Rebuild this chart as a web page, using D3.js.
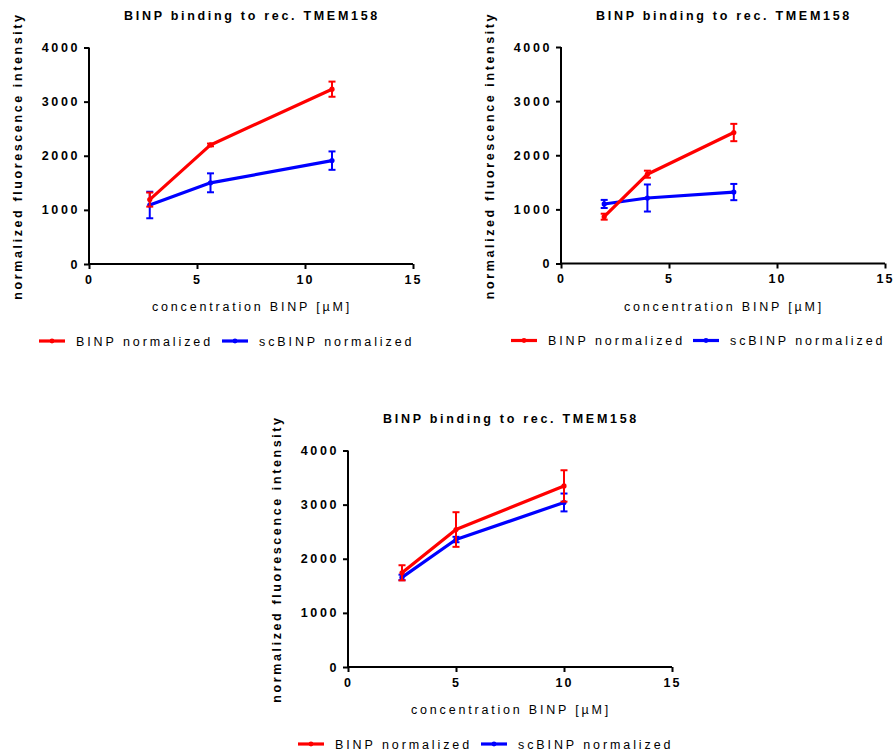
<!DOCTYPE html>
<html>
<head>
<meta charset="utf-8">
<script src="https://cdn.jsdelivr.net/npm/d3@7"></script>
<style>
  html, body { margin: 0; padding: 0; background: #fff; }
  svg { display: block; font-family: "Liberation Sans", Arial, sans-serif; }
</style>
</head>
<body>
<svg id="chart" width="893" height="753"></svg>
<script>
// Shared axes
const xTicks = [0, 5, 10, 15];
const yTicks = [0, 1000, 2000, 3000, 4000];
const seriesNames = ["BINP normalized", "scBINP normalized"];
const seriesColors = ["#ff0000", "#0000ff"];

// Experiment 1
const conc1 = [2.8125, 5.625, 11.25];
const binp1 = [1190, 2200, 3230];
const binp1Err = [130, 25, 140];
const sc1 = [1090, 1500, 1910];
const sc1Err = [245, 175, 170];

// Experiment 2
const conc2 = [2, 4, 8];
const binp2 = [865, 1650, 2420];
const binp2Err = [55, 65, 160];
const sc2 = [1100, 1210, 1320];
const sc2Err = [75, 250, 150];

// Experiment 3
const conc3 = [2.5, 5, 10];
const binp3 = [1740, 2540, 3345];
const binp3Err = [140, 320, 290];
const sc3 = [1655, 2355, 3040];
const sc3Err = [50, 50, 165];

const titleText = "BINP binding to rec. TMEM158";
const xLabel = "concentration BINP [µM]";
const yLabel = "normalized fluorescence intensity";

const svg = d3.select("#chart");

function drawPanel(p) {
  const g = svg.append("g");
  const x = d3.scaleLinear().domain([0, 15]).range([p.left, p.left + 324]);
  const y = d3.scaleLinear().domain([0, 4000]).range([p.bottom, p.bottom - 216.5]);

  // title
  g.append("text")
    .attr("x", p.left + 163).attr("y", p.bottom - 244)
    .attr("text-anchor", "middle")
    .attr("font-size", 12.5).attr("font-weight", "bold")
    .attr("letter-spacing", 2.7)
    .text(titleText);

  // axes
  const xAxis = d3.axisBottom(x).tickValues(xTicks).tickSize(5).tickPadding(6).tickFormat(d3.format("d"));
  const yAxis = d3.axisLeft(y).tickValues(yTicks).tickSize(5).tickPadding(4).tickFormat(d3.format("d"));

  const gx = g.append("g").attr("transform", `translate(0,${p.bottom})`).call(xAxis);
  const gy = g.append("g").attr("transform", `translate(${p.left},0)`).call(yAxis);
  [gx, gy].forEach(a => {
    a.select(".domain").attr("stroke", "#000").attr("stroke-width", 2);
    a.selectAll(".tick line").attr("stroke", "#000").attr("stroke-width", 2);
    a.selectAll(".tick text")
      .attr("fill", "#000").attr("font-size", 12.5).attr("font-weight", "bold")
      .attr("font-family", "'Liberation Sans', Arial, sans-serif");
  });
  gy.selectAll(".tick text").attr("letter-spacing", 2.6);
  gx.selectAll(".tick text").attr("letter-spacing", 2);
  gy.select(".domain").attr("d", `M-0,${y(4000)}V${p.bottom}`);
  gx.select(".domain").attr("d", `M${p.left},0H${x(15)}`);

  // axis labels
  g.append("text")
    .attr("x", p.left + 163).attr("y", p.bottom + 47)
    .attr("text-anchor", "middle")
    .attr("font-size", 12.5).attr("letter-spacing", 2.8)
    .text(xLabel);
  g.append("text")
    .attr("transform", `translate(${p.left - 67},${p.bottom - 108}) rotate(-90)`)
    .attr("text-anchor", "middle")
    .attr("font-size", 12.5).attr("font-weight", "bold").attr("letter-spacing", 2.6)
    .text(yLabel);

  // series: blue first, red on top
  const order = [1, 0];
  order.forEach(i => {
    const vals = p.series[i].vals, errs = p.series[i].errs, col = seriesColors[i];
    const pts = p.conc.map((c, k) => ({ c, v: vals[k], e: errs[k] }));
    const line = d3.line().x(d => x(d.c)).y(d => y(d.v));
    g.append("path").datum(pts)
      .attr("d", line).attr("fill", "none")
      .attr("stroke", col).attr("stroke-width", 3.2).attr("stroke-linejoin", "round");
    const eb = g.append("g").attr("stroke", col).attr("stroke-width", 2);
    pts.forEach(d => {
      const cx = x(d.c);
      eb.append("line").attr("x1", cx).attr("x2", cx).attr("y1", y(d.v + d.e)).attr("y2", y(d.v - d.e));
      eb.append("line").attr("x1", cx - 3.5).attr("x2", cx + 3.5).attr("y1", y(d.v + d.e)).attr("y2", y(d.v + d.e));
      eb.append("line").attr("x1", cx - 3.5).attr("x2", cx + 3.5).attr("y1", y(d.v - d.e)).attr("y2", y(d.v - d.e));
    });
    g.selectAll(null).data(pts).enter().append("circle")
      .attr("cx", d => x(d.c)).attr("cy", d => y(d.v)).attr("r", 2.6).attr("fill", col);
  });

  // legend
  const ly = p.bottom + 77;
  p.legend.forEach((lx, i) => {
    g.append("line").attr("x1", lx).attr("x2", lx + 26).attr("y1", ly).attr("y2", ly)
      .attr("stroke", seriesColors[i]).attr("stroke-width", 3.2);
    g.append("circle").attr("cx", lx + 13).attr("cy", ly).attr("r", 2.4).attr("fill", seriesColors[i]);
    g.append("text").attr("x", lx + 37).attr("y", ly + 4.5)
      .attr("font-size", 12.5).attr("letter-spacing", 2.9)
      .text(seriesNames[i]);
  });
}

drawPanel({ left: 89, bottom: 264, conc: conc1,
  series: [{ vals: binp1, errs: binp1Err }, { vals: sc1, errs: sc1Err }],
  legend: [39, 222] });
drawPanel({ left: 561, bottom: 263.5, conc: conc2,
  series: [{ vals: binp2, errs: binp2Err }, { vals: sc2, errs: sc2Err }],
  legend: [511, 693] });
drawPanel({ left: 348, bottom: 667, conc: conc3,
  series: [{ vals: binp3, errs: binp3Err }, { vals: sc3, errs: sc3Err }],
  legend: [298, 481] });
</script>
</body>
</html>
